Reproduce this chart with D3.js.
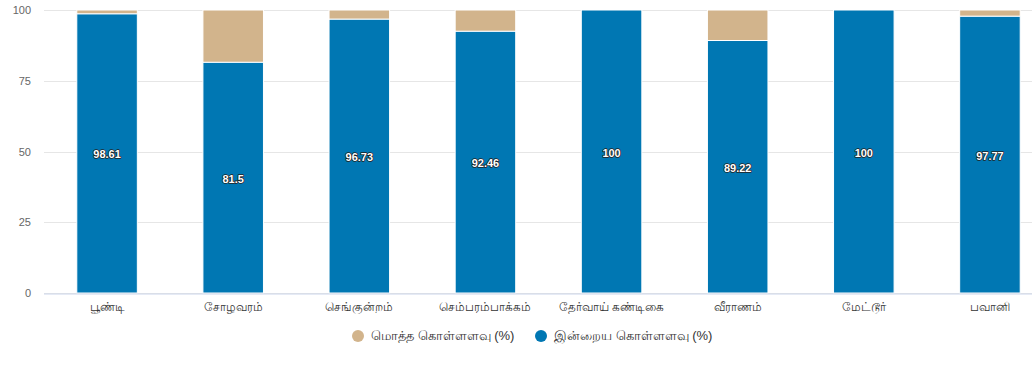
<!DOCTYPE html>
<html><head><meta charset="utf-8">
<script src="https://cdn.jsdelivr.net/npm/d3@7"></script>
<style>
body{margin:0;background:#fff;}
svg{display:block;font-family:"Liberation Sans",Arial,"Noto Sans",sans-serif;}
</style></head><body>
<svg id="c" width="1032" height="370"></svg>
<script>
const categories = ["பூண்டி","சோழவரம்","செங்குன்றம்","செம்பரம்பாக்கம்","தேர்வாய் கண்டிகை","வீராணம்","மேட்டூர்","பவானி"];
const currentValues = [98.61, 81.5, 96.73, 92.46, 100, 89.22, 100, 97.77];
const totalValues = [100, 100, 100, 100, 100, 100, 100, 100];
const yTicks = [0, 25, 50, 75, 100];
const seriesNames = ["மொத்த கொள்ளளவு (%)", "இன்றைய கொள்ளளவு (%)"];
const colors = ["#d2b48c", "#0077b3"];

(function () {
const svg = d3.select("#c");
const pLeft = 44, pRight = 1053, pTop = 10, pBottom = 293;
const x = d3.scaleBand().domain(categories).range([pLeft, pRight]).padding(0);
const y = d3.scaleLinear().domain([0, 100]).range([pBottom, pTop]);
const bw = x.bandwidth() * 0.48;

// gridlines
svg.append("g").selectAll("line").data(yTicks).join("line")
  .attr("x1", pLeft).attr("x2", 1032)
  .attr("y1", d => Math.round(y(d)) + 0.5).attr("y2", d => Math.round(y(d)) + 0.5)
  .attr("stroke", "#e6e6e6").attr("stroke-width", 1);

// y labels
svg.append("g").selectAll("text").data(yTicks).join("text")
  .attr("x", 31).attr("y", d => y(d) + 4)
  .attr("text-anchor", "end").attr("font-size", 11).attr("fill", "#666")
  .text(d => d);

// bars
const g = svg.append("g");
categories.forEach((c, i) => {
  const cur = currentValues[i];
  const rest = totalValues[i] - cur;
  const cx = x(c) + x.bandwidth() / 2;
  if (rest > 0) {
    g.append("rect")
      .attr("x", cx - bw / 2).attr("width", bw)
      .attr("y", y(cur + rest)).attr("height", y(cur) - y(cur + rest))
      .attr("fill", colors[0]).attr("stroke", "#fff").attr("stroke-width", 1);
  }
  g.append("rect")
    .attr("x", cx - bw / 2).attr("width", bw)
    .attr("y", y(cur)).attr("height", y(0) - y(cur))
    .attr("fill", colors[1]).attr("stroke", "#fff").attr("stroke-width", 1);
});

// x axis line
svg.append("line").attr("x1", pLeft).attr("x2", 1032)
  .attr("y1", 294).attr("y2", 294).attr("stroke", "#ccd6eb").attr("stroke-width", 1);

// data labels
svg.append("g").selectAll("text").data(categories).join("text")
  .attr("x", d => x(d) + x.bandwidth() / 2)
  .attr("y", (d, i) => (y(currentValues[i]) + y(0)) / 2 + 5)
  .attr("text-anchor", "middle").attr("font-size", 11).attr("font-weight", "bold")
  .attr("fill", "#fff").attr("stroke", "#222").attr("stroke-width", 1.5)
  .attr("stroke-linejoin", "round").attr("paint-order", "stroke")
  .text((d, i) => currentValues[i]);

// x labels
svg.append("g").selectAll("text").data(categories).join("text")
  .attr("x", d => x(d) + x.bandwidth() / 2).attr("y", 311)
  .attr("text-anchor", "middle").attr("font-size", 12).attr("fill", "#333")
  .text(d => d);

// legend
const legendX = [358, 541];
const lg = svg.append("g");
seriesNames.forEach((n, i) => {
  lg.append("circle").attr("cx", legendX[i]).attr("cy", 336).attr("r", 6).attr("fill", colors[i]);
  lg.append("text").attr("x", legendX[i] + 13).attr("y", 340)
    .attr("font-size", 13).attr("fill", "#333").text(n);
});
})();
</script></body></html>
